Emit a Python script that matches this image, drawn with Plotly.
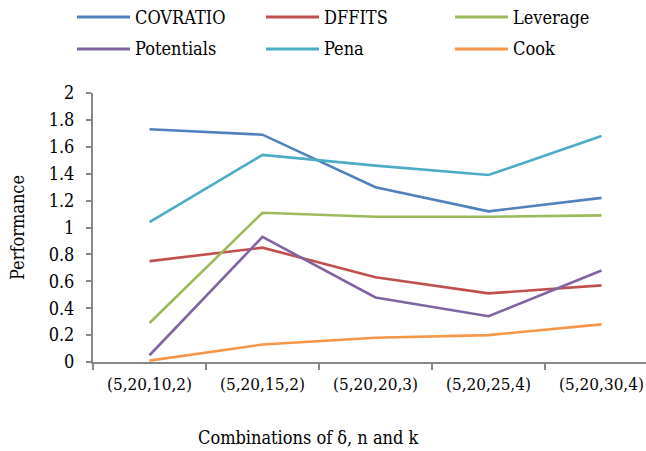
import plotly.graph_objects as go

# Combinations of (delta, n, m, k) on the horizontal axis
combos = ["(5,20,10,2)", "(5,20,15,2)", "(5,20,20,3)", "(5,20,25,4)", "(5,20,30,4)"]

# Performance of each diagnostic measure
covratio = [1.73, 1.69, 1.30, 1.12, 1.22]
dffits = [0.75, 0.85, 0.63, 0.51, 0.57]
leverage = [0.29, 1.11, 1.08, 1.08, 1.09]
potentials = [0.05, 0.93, 0.48, 0.34, 0.68]
pena = [1.04, 1.54, 1.46, 1.39, 1.68]
cook = [0.01, 0.13, 0.18, 0.20, 0.28]

series_names = ["COVRATIO", "DFFITS", "Leverage", "Potentials", "Pena", "Cook"]
series_values = [covratio, dffits, leverage, potentials, pena, cook]
series_colors = ["#4F81BD", "#C0504D", "#9BBB59", "#8064A2", "#4BACC6", "#F79646"]

FONT = "'DejaVu Serif Condensed', 'DejaVu Serif', serif"
W, H = 646, 451
ML, MR, MT, MB = 93, 0, 93, 89
PW, PH = W - ML - MR, H - MT - MB

fig = go.Figure()
for name, vals, col in zip(series_names, series_values, series_colors):
    fig.add_trace(go.Scatter(
        x=combos, y=vals, name=name, mode="lines",
        line=dict(color=col, width=2.6), showlegend=False,
    ))


def px_x(px):
    return (px - ML) / PW


def px_y(py):
    return (H - MB - py) / PH


# Legend laid out in three columns, two rows
shapes, annotations = [], []
col_x = [77, 266, 455]
row_y = [17, 49]
for i, (name, col) in enumerate(zip(series_names, series_colors)):
    r, c = divmod(i, 3)
    x0 = col_x[c]
    y = row_y[r]
    shapes.append(dict(type="line", xref="paper", yref="paper",
                       x0=px_x(x0), x1=px_x(x0 + 53), y0=px_y(y), y1=px_y(y),
                       line=dict(color=col, width=3)))
    annotations.append(dict(xref="paper", yref="paper", x=px_x(x0 + 56), y=px_y(y),
                            text=name, showarrow=False, xanchor="left", yanchor="middle",
                            font=dict(family=FONT, size=18, color="#000")))

# Horizontal axis title
annotations.append(dict(xref="paper", yref="paper", x=px_x(308), y=px_y(437),
                        text="Combinations of δ, n and k", showarrow=False,
                        xanchor="center", yanchor="middle",
                        font=dict(family=FONT, size=18, color="#000")))

fig.update_layout(
    width=W, height=H,
    margin=dict(l=ML, r=MR, t=MT, b=MB),
    paper_bgcolor="white", plot_bgcolor="white",
    font=dict(family=FONT, color="#000"),
    shapes=shapes, annotations=annotations,
    showlegend=False,
)
fig.update_xaxes(
    type="category", range=[-0.5, 4.394],
    showgrid=False, showline=True, linecolor="#878787", linewidth=2,
    ticks="outside", tickson="boundaries", ticklen=6, tickwidth=2, tickcolor="#878787",
    tickfont=dict(family=FONT, size=17, color="#000"), ticklabelstandoff=6,
)
fig.update_yaxes(
    range=[0, 2], dtick=0.2, tick0=0,
    showgrid=False, zeroline=False, showline=True, linecolor="#878787", linewidth=2,
    ticks="outside", ticklen=5, tickwidth=2, tickcolor="#878787",
    tickfont=dict(family=FONT, size=18, color="#000"), ticklabelstandoff=8,
    title=dict(text="Performance", font=dict(family=FONT, size=18, color="#000"), standoff=19),
)

fig.write_html("out.html")
